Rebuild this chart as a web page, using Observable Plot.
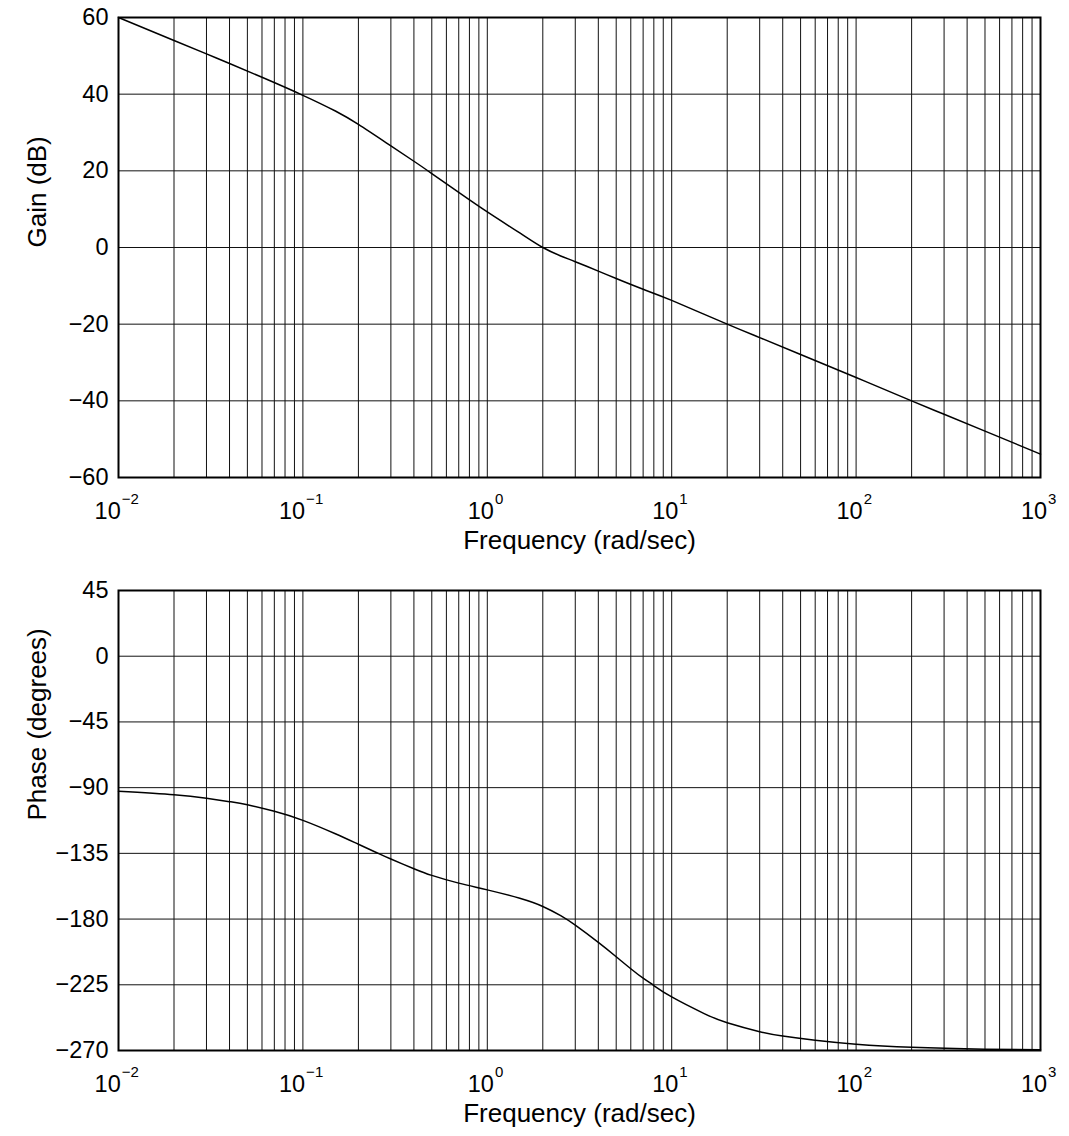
<!DOCTYPE html>
<html>
<head>
<meta charset="utf-8">
<script src="https://cdn.jsdelivr.net/npm/d3@7"></script>
<script src="https://cdn.jsdelivr.net/npm/@observablehq/plot@0.6"></script>
<style>
  html, body { margin: 0; padding: 0; background: #fff; }
  #chart svg { display: block; }
</style>
</head>
<body>
<div id="chart"></div>
<script>
// ---- Data ----
const gainFreq = [0.01, 0.02, 0.03, 0.04, 0.06, 0.1, 0.15, 0.2, 0.3, 0.4, 0.5, 0.7, 1, 1.5, 2, 2.5, 3, 4, 5, 7, 10, 20, 30, 50, 100, 200, 300, 500, 1000];
const gainDb   = [60, 54, 50.5, 48, 44.4, 39.7, 35.6, 32.1, 26.5, 22.5, 19.3, 14.4, 9.3, 3.8, 0, -2.2, -3.7, -6.15, -8.1, -10.9, -13.8, -20, -23.5, -27.9, -33.9, -40, -43.5, -47.9, -53.9];

const phaseFreq = [0.01, 0.02, 0.03, 0.04, 0.05, 0.07, 0.1, 0.15, 0.2, 0.25, 0.3, 0.4, 0.5, 0.7, 1, 1.5, 2, 2.5, 3, 4, 5, 6, 7, 8, 10, 15, 20, 30, 40, 60, 100, 200, 500, 1000];
const phaseDeg  = [-92.5, -94.9, -97.3, -99.6, -101.7, -106.2, -112.4, -121.6, -128.8, -134.4, -138.9, -145.5, -150.1, -155.4, -160, -165.8, -171.4, -177.7, -184.2, -196.0, -205.8, -214.0, -220.5, -225.5, -233.3, -244.7, -251, -257.1, -260.1, -263.0, -265.7, -267.8, -269.1, -269.55];

const gainTicks  = [60, 40, 20, 0, -20, -40, -60];
const phaseTicks = [45, 0, -45, -90, -135, -180, -225, -270];
const decadeExponents = [-2, -1, 0, 1, 2, 3];
const xLabel = "Frequency (rad/sec)";
const gainLabel = "Gain (dB)";
const phaseLabel = "Phase (degrees)";

// ---- Derived ----
const xDomain = [10 ** decadeExponents[0], 10 ** decadeExponents[decadeExponents.length - 1]];
const gridX = decadeExponents.slice(0, -1)
  .flatMap(e => d3.range(1, 10).map(m => +(m * 10 ** e).toPrecision(6)))
  .concat([xDomain[1]]);

const gainData  = gainFreq.map((f, i) => ({f, v: gainDb[i]}));
const phaseData = phaseFreq.map((f, i) => ({f, v: phaseDeg[i]}));

const FONT = "'Liberation Sans', Arial, Helvetica, sans-serif";
const TICK_FS = 23.5, LABEL_FS = 26, EXP_FS = 15;
const minus = v => v < 0 ? "\u2212" + Math.abs(v) : String(v);
const expWidth = e => (e < 0 ? 1.14 : 0.556) * EXP_FS;  // approx. width of the superscript
const baseWidth = 1.112 * TICK_FS;                       // approx. width of "10"

function panel({data, yDomain, yTicks, yLabel, height, marginTop, marginBottom}) {
  return Plot.plot({
    width: 1069,
    height,
    marginLeft: 118,
    marginRight: 29,
    marginTop,
    marginBottom,
    style: {fontFamily: FONT, fontSize: TICK_FS + "px", color: "#000", background: "#fff", overflow: "visible"},
    x: {type: "log", domain: xDomain, axis: null},
    y: {domain: yDomain, axis: null},
    marks: [
      Plot.ruleX(gridX, {stroke: "#111", strokeWidth: 1}),
      Plot.ruleY(yTicks, {stroke: "#111", strokeWidth: 1}),
      Plot.line(data, {x: "f", y: "v", stroke: "#000", strokeWidth: 1.5, curve: "natural"}),
      Plot.frame({stroke: "#000", strokeWidth: 2}),
      Plot.axisY(yTicks, {tickSize: 0, tickPadding: 10, label: null, tickFormat: minus, fontSize: TICK_FS}),
      // x tick labels: "10" with a superscript exponent
      ...decadeExponents.map(e => Plot.text([e], {
        x: d => 10 ** d, frameAnchor: "bottom", text: () => "10",
        textAnchor: "end", lineAnchor: "bottom", fontSize: TICK_FS,
        dx: (baseWidth - expWidth(e)) / 2 - 2.3, dy: 41
      })),
      ...decadeExponents.map(e => Plot.text([e], {
        x: d => 10 ** d, frameAnchor: "bottom", text: d => minus(d),
        textAnchor: "start", lineAnchor: "bottom", fontSize: EXP_FS,
        dx: (baseWidth - expWidth(e)) / 2 - 1.3, dy: 26
      })),
      Plot.text([xLabel], {frameAnchor: "bottom", lineAnchor: "bottom", dy: 71, fontSize: LABEL_FS}),
      Plot.text([yLabel], {frameAnchor: "left", rotate: -90, lineAnchor: "middle", dx: -81, fontSize: LABEL_FS})
    ]
  });
}

const chart = document.getElementById("chart");
chart.append(panel({
  data: gainData, yDomain: [-60, 60], yTicks: gainTicks, yLabel: gainLabel,
  height: 560, marginTop: 17, marginBottom: 83
}));
chart.append(panel({
  data: phaseData, yDomain: [-270, 45], yTicks: phaseTicks, yLabel: phaseLabel,
  height: 576, marginTop: 30, marginBottom: 86
}));
</script>
</body>
</html>
